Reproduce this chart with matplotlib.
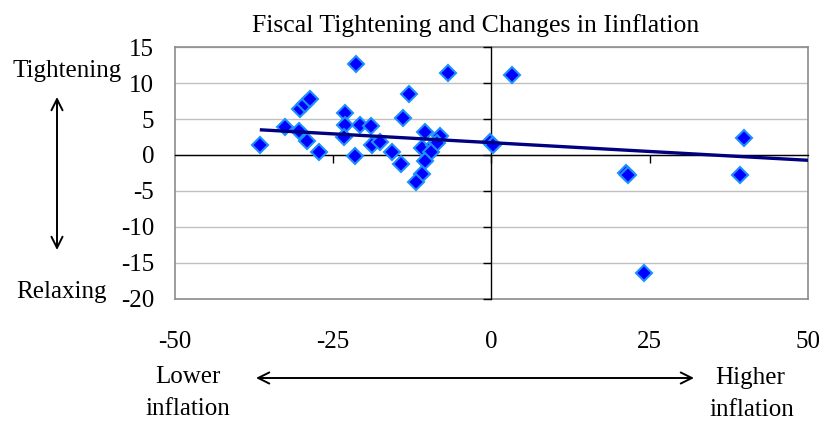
import numpy as np
import matplotlib
matplotlib.use("Agg")
import matplotlib.pyplot as plt
from matplotlib.patches import FancyArrowPatch

# Change in inflation (x) vs. fiscal tightening (y)
inflation_change = [
    -36.6, -32.6, -30.4, -30.3, -29.4, -28.6, -29.2, -27.3,
    -23.1, -23.1, -23.3, -21.6, -21.4, -20.8, -19.0, -18.8,
    -17.6, -15.7, -14.3, -14.0, -13.1, -6.9,
    -10.5, -8.2, -11.0, -9.1, -8.6, -9.6, -10.5, -11.0, -12.0,
    -0.2, 0.2, 3.3, 21.3, 21.6, 24.1, 39.9, 39.3,
]
fiscal_tightening = [
    1.4, 3.9, 3.3, 6.4, 7.05, 7.75, 1.95, 0.4,
    5.9, 4.2, 2.5, -0.2, 12.6, 4.2, 4.0, 1.4,
    1.8, 0.4, -1.3, 5.2, 8.5, 11.4,
    3.2, 2.7, 1.0, 1.4, 1.6, 0.4, -0.9, -2.6, -3.7,
    1.8, 1.45, 11.1, -2.5, -2.8, -16.4, 2.3, -2.8,
]

# Published linear trend
trend_slope = -0.049
trend_intercept = 1.71
trend_end = 50

x_ticks = [-50, -25, 0, 25, 50]
y_ticks = [15, 10, 5, 0, -5, -10, -15, -20]
x_limits = (-50, 50)
y_limits = (-20, 15)

plt.rcParams["font.family"] = ["Liberation Serif", "DejaVu Serif"]
plt.rcParams["axes.unicode_minus"] = False

W, H = 820, 421
fig = plt.figure(figsize=(W / 100, H / 100), dpi=100)


def fx(px):
    return px / W


def fy(py):
    return 1 - py / H


rect = [fx(175), fy(298.8), (808 - 175) / W, (298.8 - 47.1) / H]

# Frame, gridlines and tick labels
ax = fig.add_axes(rect)
ax.set_xlim(*x_limits)
ax.set_ylim(*y_limits)
ax.set_yticks(y_ticks)
ax.set_xticks(x_ticks)
ax.yaxis.grid(True, color="#c0c0c0", linewidth=1.0)
ax.set_axisbelow(True)
for side in ["top", "right", "left", "bottom"]:
    ax.spines[side].set_color("#8c8c8c")
    ax.spines[side].set_linewidth(1.2)
ax.tick_params(axis="both", length=0, labelsize=18)
ax.tick_params(axis="y", pad=15)
ax.tick_params(axis="x", pad=23)

# Axis lines crossing at the origin, with outward tick marks, plus the data
ax_lines = fig.add_axes(rect)
ax_lines.set_xlim(*x_limits)
ax_lines.set_ylim(*y_limits)
ax_lines.patch.set_visible(False)
for side in ["top", "right"]:
    ax_lines.spines[side].set_visible(False)
ax_lines.spines["left"].set_position(("data", 0))
ax_lines.spines["bottom"].set_position(("data", 0))
for side in ["left", "bottom"]:
    ax_lines.spines[side].set_color("black")
    ax_lines.spines[side].set_linewidth(1.0)
ax_lines.tick_params(axis="both", direction="out", length=6, width=1.0,
                     labelleft=False, labelbottom=False, color="black")
ax_lines.set_xticks(x_ticks[1:-1])
ax_lines.set_yticks(y_ticks)

# Scatter points
ax_lines.plot(inflation_change, fiscal_tightening, linestyle="none", marker="D",
              markersize=8, markerfacecolor="#0000ff", markeredgecolor="#1e90ff",
              markeredgewidth=1.5, zorder=3)

# Linear trend line
trend_x = np.array([min(inflation_change), trend_end])
ax_lines.plot(trend_x, trend_slope * trend_x + trend_intercept, color="#000080",
              linewidth=2.4, zorder=4, solid_capstyle="butt")

fig.text(fx(476), fy(32), "Fiscal Tightening and Changes in Iinflation",
         ha="center", va="baseline", fontsize=18.5)

# Direction annotations
fig.text(fx(67.5), fy(77), "Tightening", ha="center", va="baseline", fontsize=18)
fig.text(fx(61.5), fy(298), "Relaxing", ha="center", va="baseline", fontsize=18)
fig.text(fx(188), fy(383), "Lower", ha="center", va="baseline", fontsize=18)
fig.text(fx(188), fy(415), "inflation", ha="center", va="baseline", fontsize=18)
fig.text(fx(750), fy(384), "Higher", ha="center", va="baseline", fontsize=18)
fig.text(fx(752), fy(416), "inflation", ha="center", va="baseline", fontsize=18)

arrow_style = dict(arrowstyle="<->", color="black", linewidth=1.4, mutation_scale=20,
                   shrinkA=0, shrinkB=0, transform=fig.transFigure)
fig.patches.append(FancyArrowPatch((fx(57), fy(97)), (fx(57), fy(250)), **arrow_style))
fig.patches.append(FancyArrowPatch((fx(256), fy(378)), (fx(694), fy(378)), **arrow_style))

fig.savefig("out.png", dpi=100)
